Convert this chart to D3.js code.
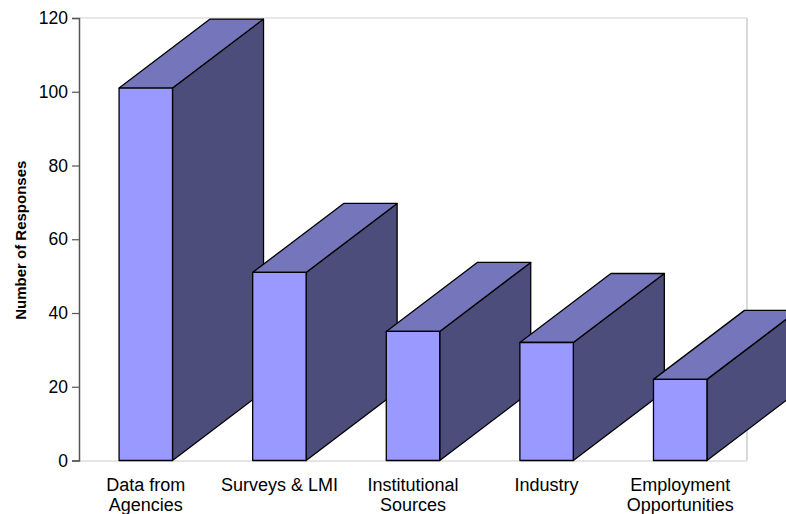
<!DOCTYPE html>
<html>
<head>
<meta charset="utf-8">
<script src="https://cdn.jsdelivr.net/npm/d3@7/dist/d3.min.js"></script>
<style>
  html, body { margin: 0; padding: 0; background: #fff; }
  svg { display: block; font-family: "Liberation Sans", Arial, sans-serif; }
</style>
</head>
<body>
<svg id="chart" width="786" height="514"></svg>
<script>
// Responses per information source
const categories = [
  ["Data from", "Agencies"],
  ["Surveys & LMI"],
  ["Institutional", "Sources"],
  ["Industry"],
  ["Employment", "Opportunities"]
];
const values = [101, 51, 35, 32, 22];
const yTicks = [0, 20, 40, 60, 80, 100, 120];

const svg = d3.select("#chart");
const plotLeft = 79, plotRight = 747, plotTop = 18, plotBottom = 460.5;

const x = d3.scaleBand()
  .domain(d3.range(categories.length))
  .range([plotLeft, plotRight])
  .paddingInner(0).paddingOuter(0);

const y = d3.scaleLinear().domain([0, 120]).range([plotBottom, plotTop]);

// 3D extrusion offsets
const depthX = 91, depthY = 69;
const frontW = x.bandwidth() * 0.4;

// plot frame
svg.append("line").attr("x1", plotLeft).attr("x2", plotRight).attr("y1", plotTop).attr("y2", plotTop)
  .attr("stroke", "#e0e0e0").attr("stroke-width", 1.5);
svg.append("line").attr("x1", plotRight).attr("x2", plotRight).attr("y1", plotTop).attr("y2", plotBottom)
  .attr("stroke", "#cccccc").attr("stroke-width", 1.5);
svg.append("line").attr("x1", plotLeft).attr("x2", plotRight).attr("y1", plotBottom + 0.5).attr("y2", plotBottom + 0.5)
  .attr("stroke", "#dddddd").attr("stroke-width", 1.5);

// bars, painted left to right so each overlaps the previous one's side
const bars = svg.append("g").selectAll("g").data(values).join("g");

bars.each(function(v, i) {
  const g = d3.select(this);
  const x0 = x(i) + (x.bandwidth() - frontW) / 2;
  const x1 = x0 + frontW;
  const yt = y(v), yb = y(0);
  const poly = (pts, fill) => g.append("polygon")
    .attr("points", pts.map(d => d.join(",")).join(" "))
    .attr("fill", fill)
    .attr("stroke", "#000")
    .attr("stroke-width", 1.3)
    .attr("stroke-linejoin", "round");
  // side face
  poly([[x1, yt], [x1 + depthX, yt - depthY], [x1 + depthX, yb - depthY], [x1, yb]], "#4d4d7b");
  // top face
  poly([[x0, yt], [x0 + depthX, yt - depthY], [x1 + depthX, yt - depthY], [x1, yt]], "#7575bc");
  // front face
  poly([[x0, yt], [x1, yt], [x1, yb], [x0, yb]], "#9999ff");
});

// y axis
const yAxis = d3.axisLeft(y).tickValues(yTicks).tickSize(7).tickPadding(4);
const ya = svg.append("g").attr("transform", `translate(${plotLeft},0)`).call(yAxis);
ya.select(".domain").attr("stroke", "#555").attr("stroke-width", 1.5);
ya.selectAll(".tick line").attr("stroke", "#555").attr("stroke-width", 1.2);
ya.selectAll(".tick text").attr("font-size", 17.5).attr("fill", "#000")
  .attr("font-family", "Liberation Sans, Arial, sans-serif");

// y axis title
svg.append("text")
  .attr("transform", `translate(25.5,${(plotTop + plotBottom) / 2 + 1}) rotate(-90)`)
  .attr("text-anchor", "middle")
  .attr("font-size", 15).attr("font-weight", "bold")
  .text("Number of Responses");

// category labels
const labels = svg.append("g").selectAll("text").data(categories).join("text")
  .attr("text-anchor", "middle")
  .attr("font-size", 18)
  .attr("x", (d, i) => x(i) + x.bandwidth() / 2)
  .attr("y", 490.5);
labels.selectAll("tspan").data(d => d).join("tspan")
  .attr("x", function() { return d3.select(this.parentNode).attr("x"); })
  .attr("dy", (d, j) => j === 0 ? 0 : 20.5)
  .text(d => d);
</script>
</body>
</html>
